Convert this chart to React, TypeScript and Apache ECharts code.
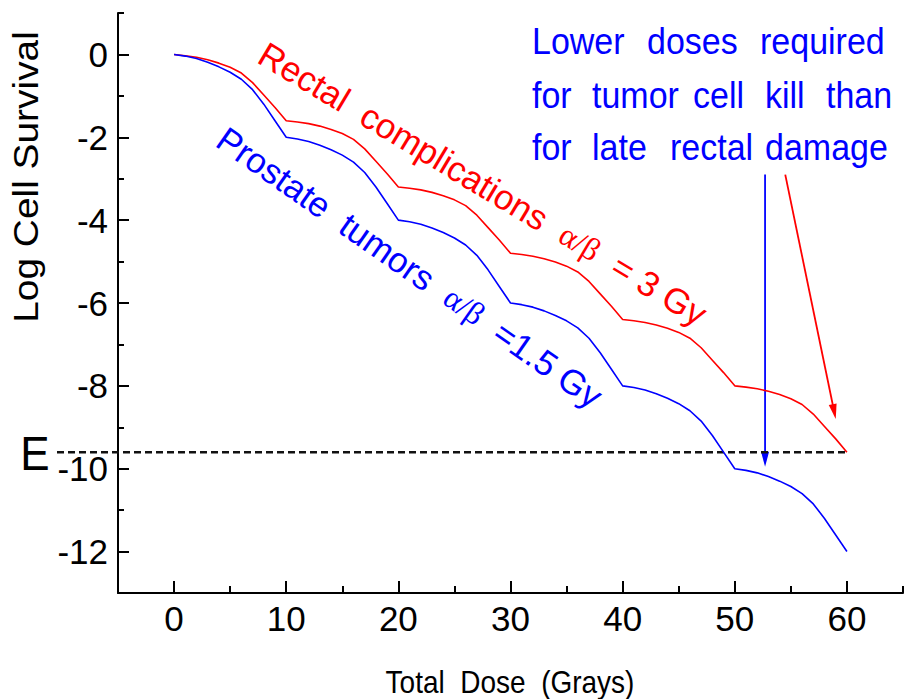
import { useEffect, useRef } from "react";
import * as echarts from "echarts";

// Total dose delivered (Gy), sampled every gray
const doses = [
  0, 1, 2, 3, 4, 5, 6, 7, 8, 9, 10,
  11, 12, 13, 14, 15, 16, 17, 18, 19, 20,
  21, 22, 23, 24, 25, 26, 27, 28, 29, 30,
  31, 32, 33, 34, 35, 36, 37, 38, 39, 40,
  41, 42, 43, 44, 45, 46, 47, 48, 49, 50,
  51, 52, 53, 54, 55, 56, 57, 58, 59, 60,
];

// Prostate tumour cells, alpha/beta = 1.5 Gy
const prostateLogSurvival = [
  0, -0.04, -0.1, -0.19, -0.3, -0.43, -0.6, -0.85, -1.2, -1.6, -2.0,
  -2.04, -2.1, -2.19, -2.3, -2.43, -2.6, -2.85, -3.2, -3.6, -4.0,
  -4.04, -4.1, -4.19, -4.3, -4.43, -4.6, -4.85, -5.2, -5.6, -6.0,
  -6.04, -6.1, -6.19, -6.3, -6.43, -6.6, -6.85, -7.2, -7.6, -8.0,
  -8.04, -8.1, -8.19, -8.3, -8.43, -8.6, -8.85, -9.2, -9.6, -10.0,
  -10.04, -10.1, -10.19, -10.3, -10.43, -10.6, -10.85, -11.2, -11.6, -12.0,
];

// Late rectal complications, alpha/beta = 3 Gy
const rectalLogSurvival = [
  0, -0.03, -0.07, -0.13, -0.21, -0.31, -0.45, -0.68, -0.98, -1.28, -1.6,
  -1.63, -1.67, -1.73, -1.81, -1.91, -2.05, -2.28, -2.58, -2.88, -3.2,
  -3.23, -3.27, -3.33, -3.41, -3.51, -3.65, -3.88, -4.18, -4.48, -4.8,
  -4.83, -4.87, -4.93, -5.01, -5.11, -5.25, -5.48, -5.78, -6.08, -6.4,
  -6.43, -6.47, -6.53, -6.61, -6.71, -6.85, -7.08, -7.38, -7.68, -8.0,
  -8.03, -8.07, -8.13, -8.21, -8.31, -8.45, -8.68, -8.98, -9.28, -9.6,
];

const doseTicks = [0, 10, 20, 30, 40, 50, 60];
const doseMinorTicks = [5, 15, 25, 35, 45, 55, 65];
const survivalTicks = [-12, -10, -8, -6, -4, -2, 0];
const survivalMinorTicks = [-11, -9, -7, -5, -3, -1, 1];

// Iso-effect level "E"
const isoeffectLevel = -9.6;

// Arrows (data coordinates): start and tip
const tumourArrow = [[52.7, -2.9], [52.7, -9.95]];
const rectalArrow = [[54.5, -2.9], [59.0, -8.8]];

const noteLines = [
  ["Lower", "doses", "required"],
  ["for", "tumor", "cell", "kill", "than"],
  ["for", "late", "rectal", "damage"],
];
const noteWordX = [
  [532, 647, 760],
  [532, 592, 693, 765, 826],
  [532, 592, 670, 765],
];
const noteLineY = [41.5, 95, 147];

const SANS = "'Liberation Sans', Arial, Helvetica, sans-serif";
const SERIF = "'Liberation Serif', 'DejaVu Serif', 'Times New Roman', serif";
const RED = "#ff0000";
const BLUE = "#0000ff";

const tickStyle = { color: "#000", width: 2 };

function arrowElements(from: number[], to: number[], color: string) {
  const dx = to[0] - from[0];
  const dy = to[1] - from[1];
  const len = Math.hypot(dx, dy);
  const ux = dx / len;
  const uy = dy / len;
  const headLen = 15;
  const headHalf = 4;
  const bx = to[0] - ux * headLen;
  const by = to[1] - uy * headLen;
  return [
    {
      type: "line",
      silent: true,
      shape: { x1: from[0], y1: from[1], x2: bx + ux * 2, y2: by + uy * 2 },
      style: { stroke: color, lineWidth: 1.8 },
    },
    {
      type: "polygon",
      silent: true,
      shape: {
        points: [
          [to[0], to[1]],
          [bx - uy * headHalf, by + ux * headHalf],
          [bx + uy * headHalf, by - ux * headHalf],
        ],
      },
      style: { fill: color },
    },
  ];
}

export default function App() {
  const ref = useRef<HTMLDivElement>(null);

  useEffect(() => {
    if (!ref.current) return;
    const chart = echarts.init(ref.current, null, { renderer: "svg" });

    const xAxisBase = {
      type: "value",
      min: -5,
      max: 65,
      position: "bottom",
      splitLine: { show: false },
    };
    const yAxisBase = {
      type: "value",
      min: -13,
      max: 1,
      position: "left",
      splitLine: { show: false },
    };

    chart.setOption({
      animation: false,
      backgroundColor: "#ffffff",
      grid: { left: 118, top: 13, width: 785, height: 580, outerBoundsMode: "none" },
      xAxis: [
        {
          ...xAxisBase,
          axisLine: { show: true, onZero: false, lineStyle: tickStyle },
          axisTick: { show: true, inside: true, length: 12, lineStyle: tickStyle, customValues: doseTicks },
          axisLabel: { customValues: doseTicks, fontSize: 35, color: "#000", fontFamily: SANS, margin: 8 },
        },
        {
          ...xAxisBase,
          axisLine: { show: false, onZero: false },
          axisTick: { show: true, inside: true, length: 7, lineStyle: tickStyle, customValues: doseMinorTicks },
          axisLabel: { show: false },
        },
      ],
      yAxis: [
        {
          ...yAxisBase,
          axisLine: { show: true, onZero: false, lineStyle: tickStyle },
          axisTick: { show: true, inside: true, length: 11, lineStyle: tickStyle, customValues: survivalTicks },
          axisLabel: { customValues: survivalTicks, fontSize: 35, color: "#000", fontFamily: SANS, margin: 10 },
        },
        {
          ...yAxisBase,
          axisLine: { show: false, onZero: false },
          axisTick: { show: true, inside: true, length: 6, lineStyle: tickStyle, customValues: survivalMinorTicks },
          axisLabel: { show: false },
        },
      ],
      series: [
        {
          name: "Rectal complications",
          type: "line",
          data: doses.map((d, i) => [d, rectalLogSurvival[i]]),
          symbol: "none",
          smooth: false,
          lineStyle: { color: RED, width: 1.6 },
          itemStyle: { color: RED },
          z: 3,
        },
        {
          name: "Prostate tumors",
          type: "line",
          data: doses.map((d, i) => [d, prostateLogSurvival[i]]),
          symbol: "none",
          smooth: false,
          lineStyle: { color: BLUE, width: 1.6 },
          itemStyle: { color: BLUE },
          z: 3,
        },
      ],
    });

    const toPx = (p: number[]) =>
      chart.convertToPixel({ xAxisIndex: 0, yAxisIndex: 0 }, p) as number[];

    const eStart = toPx([-5, isoeffectLevel]);
    const eEnd = toPx([60, isoeffectLevel]);

    const noteWords: any[] = [];
    noteLines.forEach((words, li) => {
      words.forEach((w, wi) => {
        noteWords.push({
          type: "text",
          silent: true,
          x: noteWordX[li][wi],
          y: noteLineY[li],
          scaleY: 1.1,
          style: {
            text: w,
            fontSize: 34,
            fontFamily: SANS,
            fill: BLUE,
            align: "left",
            textAlign: "left",
            verticalAlign: "middle",
            textVerticalAlign: "middle",
          },
        });
      });
    });

    const rotatedLabel = (
      x: number,
      y: number,
      deg: number,
      color: string,
      text: string
    ) => ({
      type: "text",
      silent: true,
      x,
      y,
      rotation: (-deg * Math.PI) / 180,
      style: {
        text,
        fontSize: 35,
        fontFamily: SANS,
        fill: color,
        align: "left",
        textAlign: "left",
        verticalAlign: "middle",
        textVerticalAlign: "middle",
        rich: {
          m: { fontSize: 35, fontFamily: SANS, fill: color },
          s: { fontSize: 32, fontFamily: SERIF, fill: color },
        },
      },
    });

    chart.setOption({
      graphic: [
        // axis titles
        {
          type: "text",
          silent: true,
          x: 26,
          y: 177,
          rotation: Math.PI / 2,
          scaleX: 1.08,
          style: {
            text: "Log Cell Survival",
            fontSize: 36,
            fontFamily: SANS,
            fill: "#000",
            align: "center",
            textAlign: "center",
            verticalAlign: "middle",
            textVerticalAlign: "middle",
          },
        },
        {
          type: "text",
          silent: true,
          x: 510,
          y: 682,
          scaleY: 1.15,
          style: {
            text: "Total  Dose  (Grays)",
            fontSize: 28,
            fontFamily: SANS,
            fill: "#000",
            align: "center",
            textAlign: "center",
            verticalAlign: "middle",
            textVerticalAlign: "middle",
          },
        },
        // iso-effect line
        {
          type: "line",
          silent: true,
          shape: { x1: 57, y1: eStart[1], x2: eEnd[0], y2: eEnd[1] },
          style: { stroke: "#111", lineWidth: 2.5, lineDash: [7, 4] },
          z: 2,
        },
        {
          type: "text",
          silent: true,
          x: 35,
          y: eStart[1] + 1,
          scaleY: 1.1,
          style: {
            text: "E",
            fontSize: 44,
            fontFamily: SANS,
            fill: "#000",
            align: "center",
            textAlign: "center",
            verticalAlign: "middle",
            textVerticalAlign: "middle",
          },
        },
        // curve labels
        rotatedLabel(262, 51, 31, RED, "{m|Rectal  complications  }{s|α/β}{m|  = 3 Gy}"),
        rotatedLabel(221, 135, 35, BLUE, "{m|Prostate  tumors  }{s|α/β}{m|  =1.5 Gy}"),
        // note
        ...noteWords,
        // arrows
        ...arrowElements(toPx(tumourArrow[0]), toPx(tumourArrow[1]), BLUE),
        ...arrowElements(toPx(rectalArrow[0]), toPx(rectalArrow[1]), RED),
      ],
    });

    return () => chart.dispose();
  }, []);

  return (
    <div
      ref={ref}
      style={{ position: "fixed", left: 0, top: 0, width: 904, height: 699, background: "#fff" }}
    />
  );
}
